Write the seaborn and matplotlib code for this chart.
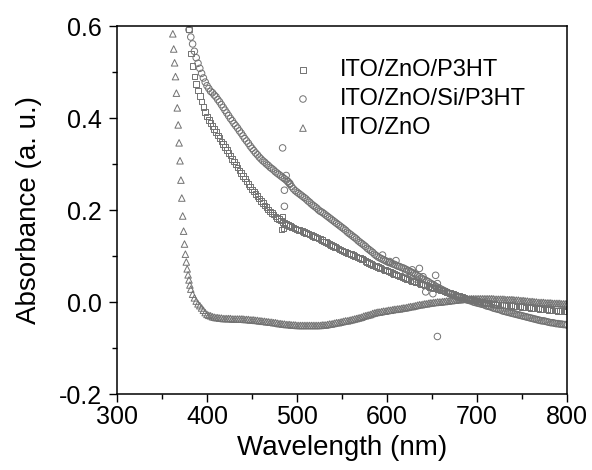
import numpy as np
import pandas as pd
import matplotlib
matplotlib.use("Agg")
import matplotlib.pyplot as plt
from matplotlib.ticker import MultipleLocator
import seaborn as sns

# ---------------- data ----------------
# ITO/ZnO/P3HT (squares): readings every 2 nm starting at 380 nm
p3ht_start = 380
p3ht_abs = [
    0.592, 0.540, 0.513, 0.490, 0.474, 0.460, 0.448, 0.436, 0.424, 0.413,
    0.403, 0.396, 0.389, 0.383, 0.376, 0.369, 0.362, 0.356, 0.349, 0.343,
    0.337, 0.330, 0.324, 0.318, 0.311, 0.305, 0.299, 0.292, 0.286, 0.280,
    0.274, 0.268, 0.262, 0.256, 0.251, 0.245, 0.240, 0.235, 0.230, 0.225,
    0.220, 0.215, 0.210, 0.206, 0.201, 0.197, 0.193, 0.190, 0.186, 0.183,
    0.180, 0.177, 0.174, 0.172, 0.170, 0.167, 0.165, 0.163, 0.162, 0.160,
    0.158, 0.157, 0.155, 0.154, 0.152, 0.150, 0.149, 0.147, 0.146, 0.144,
    0.141, 0.140, 0.138, 0.137, 0.135, 0.132, 0.130, 0.128, 0.126, 0.124,
    0.122, 0.120, 0.118, 0.116, 0.114, 0.112, 0.110, 0.109, 0.107, 0.105,
    0.104, 0.102, 0.100, 0.099, 0.097, 0.096, 0.094, 0.092, 0.089, 0.087,
    0.085, 0.083, 0.081, 0.079, 0.078, 0.076, 0.074, 0.073, 0.071, 0.070,
    0.068, 0.066, 0.065, 0.063, 0.061, 0.060, 0.058, 0.056, 0.055, 0.053,
    0.052, 0.050, 0.049, 0.047, 0.046, 0.045, 0.044, 0.042, 0.041, 0.039,
    0.038, 0.037, 0.036, 0.034, 0.033, 0.032, 0.031, 0.030, 0.028, 0.027,
    0.026, 0.025, 0.024, 0.022, 0.021, 0.019, 0.018, 0.017, 0.016, 0.014,
    0.013, 0.012, 0.011, 0.010, 0.008, 0.007, 0.006, 0.005, 0.004, 0.003,
    0.002, 0.001, 0.001, 0.000, -0.001, -0.002, -0.002, -0.003, -0.003, -0.004,
    -0.005, -0.005, -0.006, -0.006, -0.006, -0.007, -0.007, -0.008, -0.008, -0.008,
    -0.009, -0.009, -0.010, -0.010, -0.010, -0.011, -0.011, -0.012, -0.012, -0.012,
    -0.013, -0.013, -0.014, -0.014, -0.014, -0.015, -0.015, -0.016, -0.016, -0.016,
    -0.017, -0.017, -0.018, -0.018, -0.018, -0.019, -0.019, -0.020, -0.020, -0.020, -0.021]
# scattered squares near the detector change
p3ht_extra_wl = [483, 484, 485]
p3ht_extra_abs = [0.158, 0.185, 0.161]

# ITO/ZnO/Si/P3HT (circles): readings every 2 nm starting at 380 nm
si_start = 380
si_abs = [
    0.592, 0.576, 0.561, 0.545, 0.531, 0.519, 0.508, 0.497, 0.487, 0.478,
    0.470, 0.464, 0.458, 0.455, 0.450, 0.446, 0.440, 0.435, 0.429, 0.423,
    0.417, 0.411, 0.405, 0.399, 0.394, 0.388, 0.383, 0.378, 0.372, 0.367,
    0.361, 0.355, 0.350, 0.345, 0.339, 0.334, 0.329, 0.324, 0.320, 0.315,
    0.311, 0.307, 0.304, 0.300, 0.297, 0.293, 0.290, 0.287, 0.283, 0.280,
    0.277, 0.274, 0.271, 0.268, 0.265, 0.261, 0.256, 0.251, 0.246, 0.242,
    0.239, 0.236, 0.233, 0.230, 0.227, 0.224, 0.220, 0.217, 0.213, 0.210,
    0.207, 0.204, 0.200, 0.197, 0.195, 0.192, 0.189, 0.186, 0.183, 0.180,
    0.177, 0.174, 0.171, 0.168, 0.165, 0.162, 0.159, 0.156, 0.152, 0.149,
    0.146, 0.143, 0.140, 0.137, 0.133, 0.130, 0.127, 0.124, 0.121, 0.117,
    0.114, 0.111, 0.108, 0.104, 0.101, 0.098, 0.096, 0.094, 0.092, 0.090,
    0.088, 0.086, 0.085, 0.083, 0.082, 0.080, 0.078, 0.077, 0.075, 0.074,
    0.072, 0.070, 0.068, 0.066, 0.064, 0.062, 0.060, 0.057, 0.055, 0.052,
    0.050, 0.048, 0.046, 0.044, 0.041, 0.039, 0.037, 0.034, 0.032, 0.030,
    0.028, 0.026, 0.024, 0.022, 0.020, 0.018, 0.016, 0.015, 0.013, 0.011,
    0.010, 0.009, 0.007, 0.006, 0.005, 0.004, 0.003, 0.002, 0.000, -0.001,
    -0.002, -0.003, -0.004, -0.005, -0.006, -0.008, -0.009, -0.010, -0.011, -0.013,
    -0.014, -0.015, -0.016, -0.017, -0.019, -0.020, -0.021, -0.022, -0.023, -0.024,
    -0.025, -0.026, -0.027, -0.028, -0.029, -0.030, -0.031, -0.032, -0.033, -0.034,
    -0.035, -0.036, -0.037, -0.038, -0.039, -0.040, -0.041, -0.041, -0.042, -0.043,
    -0.044, -0.045, -0.045, -0.046, -0.047, -0.047, -0.048, -0.048, -0.049, -0.049, -0.050]
# scattered / noisy circles
si_extra_wl = [484, 486, 486, 488, 490, 492, 595, 603, 610, 621, 628, 632,
               636, 640, 643, 647, 651, 654, 656, 656]
si_extra_abs = [0.335, 0.243, 0.208, 0.275, 0.262, 0.258, 0.102, 0.088, 0.090, 0.066, 0.070, 0.050,
                0.073, 0.055, 0.022, 0.033, 0.018, 0.058, 0.040, -0.075]

# ITO/ZnO (triangles): 1 nm readings on the absorption edge, then every 2 nm
zno_edge_start = 362
zno_edge_abs = [0.583, 0.550, 0.520, 0.490, 0.454, 0.422, 0.385, 0.346, 0.307, 0.265,
                0.226, 0.187, 0.154, 0.126, 0.104, 0.087, 0.072, 0.059, 0.048, 0.037, 0.028]
zno_start = 384
zno_abs = [
    0.017, 0.009, 0.002, -0.004, -0.008, -0.013, -0.018, -0.023, -0.027, -0.029,
    -0.030, -0.032, -0.033, -0.034, -0.034, -0.035, -0.035, -0.036, -0.036, -0.036,
    -0.036, -0.036, -0.037, -0.037, -0.037, -0.037, -0.037, -0.037, -0.037, -0.038,
    -0.038, -0.038, -0.039, -0.039, -0.039, -0.040, -0.040, -0.041, -0.041, -0.042,
    -0.042, -0.043, -0.043, -0.044, -0.044, -0.045, -0.045, -0.046, -0.047, -0.047,
    -0.048, -0.048, -0.049, -0.049, -0.049, -0.050, -0.050, -0.050, -0.051, -0.051,
    -0.051, -0.051, -0.051, -0.051, -0.051, -0.051, -0.051, -0.051, -0.051, -0.051,
    -0.051, -0.051, -0.050, -0.050, -0.050, -0.049, -0.048, -0.048, -0.047, -0.046,
    -0.045, -0.045, -0.044, -0.043, -0.042, -0.041, -0.041, -0.040, -0.039, -0.038,
    -0.037, -0.036, -0.035, -0.034, -0.033, -0.031, -0.030, -0.029, -0.028, -0.027,
    -0.025, -0.024, -0.023, -0.022, -0.022, -0.021, -0.020, -0.020, -0.019, -0.018,
    -0.018, -0.017, -0.016, -0.016, -0.015, -0.015, -0.014, -0.013, -0.013, -0.012,
    -0.011, -0.010, -0.010, -0.009, -0.008, -0.007, -0.006, -0.006, -0.005, -0.004,
    -0.004, -0.003, -0.002, -0.002, -0.001, -0.001, 0.000, 0.000, 0.000, 0.001,
    0.001, 0.002, 0.002, 0.003, 0.003, 0.004, 0.004, 0.005, 0.005, 0.005,
    0.006, 0.006, 0.006, 0.006, 0.007, 0.007, 0.007, 0.007, 0.007, 0.007,
    0.007, 0.007, 0.007, 0.007, 0.007, 0.007, 0.007, 0.007, 0.006, 0.006,
    0.006, 0.006, 0.006, 0.006, 0.005, 0.005, 0.005, 0.005, 0.005, 0.004,
    0.004, 0.004, 0.003, 0.003, 0.003, 0.002, 0.002, 0.001, 0.001, 0.001,
    0.000, 0.000, -0.001, -0.001, -0.001, -0.001, -0.002, -0.002, -0.002, -0.002,
    -0.003, -0.003, -0.003, -0.003, -0.003, -0.004, -0.004, -0.004, -0.004]

labels = ["ITO/ZnO/P3HT", "ITO/ZnO/Si/P3HT", "ITO/ZnO"]
x_ticks = [300, 400, 500, 600, 700, 800]
y_ticks = [-0.2, 0.0, 0.2, 0.4, 0.6]

# ---------------- assemble tables ----------------
def grid(start, step, vals):
    return list(start + step * np.arange(len(vals)))

p3ht_wl = grid(p3ht_start, 2, p3ht_abs) + p3ht_extra_wl
p3ht_all = p3ht_abs + p3ht_extra_abs
si_wl = grid(si_start, 2, si_abs) + si_extra_wl
si_all = si_abs + si_extra_abs
zno_wl = grid(zno_edge_start, 1, zno_edge_abs) + grid(zno_start, 2, zno_abs)
zno_all = zno_edge_abs + zno_abs

# ---------------- style ----------------
sns.set_theme(style="ticks")
plt.rcParams["font.family"] = ["Liberation Sans", "DejaVu Sans"]
plt.rcParams["axes.unicode_minus"] = False
plt.rcParams["text.color"] = "black"
plt.rcParams["axes.labelcolor"] = "black"
plt.rcParams["xtick.color"] = "black"
plt.rcParams["ytick.color"] = "black"

fig = plt.figure(figsize=(5.92, 4.70), dpi=100)
ax = fig.add_axes([117 / 592, 1 - 394 / 470, 450 / 592, 368 / 470])

grey = "#727272"
series = [
    (p3ht_wl, p3ht_all, "s", 16, labels[0]),
    (si_wl, si_all, "o", 22, labels[1]),
    (zno_wl, zno_all, "^", 22, labels[2]),
]
for wl, ab, mk, sz, lab in series:
    df = pd.DataFrame({"Wavelength": wl, "Absorbance": ab})
    sns.scatterplot(data=df, x="Wavelength", y="Absorbance", ax=ax, marker=mk, s=sz,
                    color="none", edgecolor=grey, linewidth=0.7, label=lab)

ax.set_xlim(300, 800)
ax.set_ylim(-0.2, 0.6)
ax.set_xticks(x_ticks)
ax.set_yticks(y_ticks)
ax.set_xticklabels([str(v) for v in x_ticks])
ax.set_yticklabels([f"{v:.1f}" for v in y_ticks])
ax.xaxis.set_minor_locator(MultipleLocator(50))
ax.yaxis.set_minor_locator(MultipleLocator(0.1))
ax.tick_params(which="major", direction="out", length=6, width=1.0, labelsize=18,
               colors="black", top=False, right=False)
ax.tick_params(axis="y", which="major", pad=5)
ax.tick_params(axis="x", which="major", pad=2)
ax.tick_params(which="minor", direction="out", length=3.5, width=1.0, colors="black",
               top=False, right=False)
for sp in ax.spines.values():
    sp.set_linewidth(1.1)
    sp.set_color("black")

ax.set_xlabel("Wavelength (nm)", fontsize=20, labelpad=4, color="black")
ax.set_ylabel("Absorbance (a. u.)", fontsize=20, labelpad=12, color="black")

leg = ax.legend(loc="upper left", bbox_to_anchor=(0.387, 0.910), frameon=False,
                fontsize=17, handlelength=1.0, handletextpad=1.07, labelspacing=0.30,
                borderpad=0, borderaxespad=0, markerscale=1.0)
for t in leg.get_texts():
    t.set_color("black")

fig.savefig("out.png", dpi=100)
